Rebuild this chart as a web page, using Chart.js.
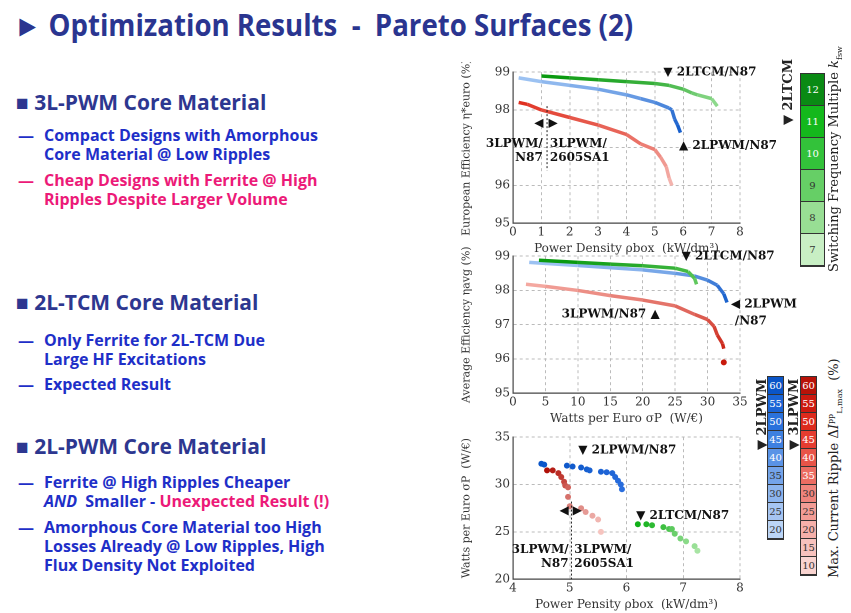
<!DOCTYPE html>
<html><head><meta charset="utf-8">
<script src="https://cdn.jsdelivr.net/npm/chart.js@4"></script>
<style>
body{margin:0;width:851px;height:613px;background:#fff;position:relative;overflow:hidden;font-family:"Open Sans",sans-serif}
.t{position:absolute;left:14px;top:4px;font-size:30px;font-weight:bold;color:#2a3590;white-space:nowrap;transform:scaleX(0.92);transform-origin:left}
.h{position:absolute;left:16px;font-size:21px;font-weight:bold;color:#2d3790;white-space:nowrap}
.s{position:absolute;left:18px;font-size:16px;font-weight:bold;color:#1e2fc8;line-height:19px;white-space:nowrap}
.s span.b{display:inline-block;width:26px}
.pk{color:#ec1a78}
canvas{position:absolute}
.bar{position:absolute;border:1px solid #333}
.bar div{box-sizing:border-box;border-bottom:1px solid #333;font:10px "DejaVu Serif",serif;text-align:center;color:#333}
.rot{position:absolute;transform:rotate(-90deg);transform-origin:left top;white-space:nowrap;font-family:"DejaVu Serif",serif;font-size:12px;color:#222}
</style></head><body>
<div class="t">&#9658; Optimization Results &nbsp;- &nbsp;Pareto Surfaces (2)</div>
<div class="h" style="top:88px">&#9632; 3L-PWM Core Material</div>
<div class="s" style="top:126px"><span class="b">—</span>Compact Designs with Amorphous<br><span class="b"></span>Core Material @ Low Ripples</div>
<div class="s pk" style="top:171px"><span class="b">—</span>Cheap Designs with Ferrite @ High<br><span class="b"></span>Ripples Despite Larger Volume</div>
<div class="h" style="top:288px">&#9632; 2L-TCM Core Material</div>
<div class="s" style="top:331px"><span class="b">—</span>Only Ferrite for 2L-TCM Due<br><span class="b"></span>Large HF Excitations</div>
<div class="s" style="top:375px"><span class="b">—</span>Expected Result</div>
<div class="h" style="top:432px">&#9632; 2L-PWM Core Material</div>
<div class="s" style="top:473px"><span class="b">—</span>Ferrite @ High Ripples Cheaper<br><span class="b"></span><i>AND</i>&nbsp; Smaller - <span class="pk">Unexpected Result (!)</span></div>
<div class="s" style="top:518px"><span class="b">—</span>Amorphous Core Material too High<br><span class="b"></span>Losses Already @ Low Ripples, High<br><span class="b"></span>Flux Density Not Exploited</div>

<canvas id="c1" style="left:460px;top:62px;width:340px;height:194px"></canvas>
<canvas id="c2" style="left:460px;top:246px;width:340px;height:180px"></canvas>
<canvas id="c3" style="left:460px;top:427px;width:340px;height:185px"></canvas>

<div class="bar" id="gbar" style="left:800px;top:73px;width:23px"></div>
<div class="rot" style="left:780px;top:125px;font-weight:bold;font-size:13px">&#9660; 2LTCM</div>
<div class="rot" style="left:826px;top:272px;font-size:13px">Switching Frequency Multiple <i>k</i><sub style="font-size:8px">fsw</sub></div>
<div class="bar" id="bbar" style="left:767px;top:376px;width:15px"></div>
<div class="bar" id="rbar" style="left:800px;top:376px;width:15px"></div>
<div class="rot" style="left:754px;top:450px;font-weight:bold;font-size:13px">&#9660; 2LPWM</div>
<div class="rot" style="left:786px;top:450px;font-weight:bold;font-size:13px">&#9660; 3LPWM</div>
<div class="rot" style="left:826px;top:578px;font-size:13px">Max. Current Ripple &Delta;<i>I</i><sup style="font-size:8px">pp</sup><sub style="font-size:8px">L,max</sub> &nbsp;(%)</div>

<script>
// chart 1: European efficiency vs power density
const g1x = [1, 2, 3, 4, 5, 5.5, 6, 6.3, 6.5, 7, 7.2];
const g1y = [98.9, 98.85, 98.8, 98.75, 98.7, 98.65, 98.55, 98.45, 98.4, 98.3, 98.1];
const b1x = [0.2, 1, 2, 3, 4, 4.5, 5, 5.5, 5.6, 5.7, 5.8, 5.9];
const b1y = [98.85, 98.75, 98.65, 98.55, 98.4, 98.3, 98.2, 98.05, 98.0, 97.75, 97.6, 97.4];
const r1x = [0.2, 0.5, 1, 2, 3, 4, 4.5, 5, 5.2, 5.4, 5.5, 5.6];
const r1y = [98.2, 98.15, 98.0, 97.8, 97.6, 97.35, 97.1, 96.95, 96.75, 96.5, 96.2, 96.0];
// chart 2: average efficiency vs watts per euro
const g2x = [4, 10, 15, 20, 25, 27, 28, 28.3];
const g2y = [98.88, 98.82, 98.77, 98.72, 98.65, 98.55, 98.35, 98.18];
const b2x = [2.5, 10, 20, 25, 28, 30, 31.5, 32.5, 33];
const b2y = [98.82, 98.73, 98.6, 98.5, 98.42, 98.3, 98.15, 97.9, 97.65];
const r2x = [2, 5, 10, 15, 20, 25, 28, 30, 31, 31.5, 32.3, 32.5];
const r2y = [98.18, 98.12, 98.0, 97.85, 97.72, 97.55, 97.3, 97.15, 96.95, 96.7, 96.45, 96.3];
const r2bx = [32.5], r2by = [95.9];
// chart 3: watts per euro vs power density
const b3x = [4.5, 4.55, 4.95, 5.05, 5.2, 5.3, 5.35, 5.55, 5.65, 5.75, 5.8, 5.85, 5.9, 5.92];
const b3y = [32.2, 32.1, 32.0, 31.9, 31.8, 31.6, 31.5, 31.35, 31.3, 31.2, 30.8, 30.4, 30.0, 29.5];
const r3x = [4.6, 4.7, 4.8, 4.85, 4.9, 4.92, 4.97, 4.97, 5.0, 5.2, 5.28, 5.4, 5.5, 5.55];
const r3y = [31.5, 31.5, 31.2, 30.8, 30.3, 29.9, 29.7, 28.7, 27.7, 27.5, 27.1, 26.7, 26.3, 25.0];
const g3x = [6.2, 6.35, 6.45, 6.65, 6.75, 6.8, 6.85, 6.95, 7.05, 7.2, 7.25];
const g3y = [25.8, 25.8, 25.7, 25.5, 25.3, 25.3, 24.8, 24.3, 24.0, 23.5, 23.0];
// colour bars
const kLabels = ['12', '11', '10', '9', '8', '7'];
const bLabels = ['60', '55', '50', '45', '40', '35', '30', '25', '20'];
const rLabels = ['60', '55', '50', '45', '40', '35', '30', '25', '20', '15', '10'];

const greens = ['#0a8a14', '#14b81c', '#33c23a', '#66cf66', '#98de94', '#c8efc4'];
const blues = ['#0a55c8', '#1a64d6', '#2a72dc', '#3d80e0', '#5a93e6', '#74a4ea', '#8db5ee', '#a6c5f2', '#bcd5f6'];
const reds = ['#b81208', '#cc1a10', '#dc2a1c', '#e43c30', '#e85448', '#ec6c62', '#f0847c', '#f39c95', '#f5b0aa', '#f7c2bd', '#f9d4d0'];

function fillBar(id, labels, cols, h) {
  const el = document.getElementById(id);
  labels.forEach((l, i) => {
    const d = document.createElement('div');
    d.style.height = h + 'px'; d.style.lineHeight = h + 'px';
    d.style.background = cols[i];
    d.style.color = i < cols.length / 2 ? '#fff' : '#333';
    d.textContent = l;
    el.appendChild(d);
  });
}
fillBar('gbar', kLabels, greens, 32);
fillBar('bbar', bLabels, blues, 18);
fillBar('rbar', rLabels, reds, 18);

const pts = (xs, ys) => xs.map((x, i) => ({x: x, y: ys[i]}));
function fade(dark, light) {
  return ctx => {
    const n = ctx.chart.data.datasets[ctx.datasetIndex].data.length;
    const t = n > 1 ? ctx.dataIndex / (n - 1) : 0;
    return mix(dark, light, t);
  };
}
function mix(a, b, t) {
  const p = s => [1, 3, 5].map(i => parseInt(s.substr(i, 2), 16));
  const A = p(a), B = p(b);
  return 'rgb(' + A.map((v, i) => Math.round(v + (B[i] - v) * t)).join(',') + ')';
}
function lineSet(d, c0, c1) {
  return {data: d, showLine: true, borderWidth: 3.5, pointRadius: 0,
    segment: {borderColor: ctx => mix(c0, c1, ctx.p0DataIndex / (d.length - 1))}};
}
const serif = '"DejaVu Serif", serif';
Chart.defaults.font.family = serif;
Chart.defaults.color = '#333';
Chart.defaults.animation = false;

const labelPlugin = {
  id: 'labels',
  afterDraw(chart, a, opts) {
    const c = chart.ctx, xs = chart.scales.x, ys = chart.scales.y;
    c.save();
    c.font = 'bold 12px ' + serif; c.fillStyle = '#111'; c.textBaseline = 'middle';
    (opts.items || []).forEach(it => {
      c.textAlign = it.align || 'left';
      it.t.split('\n').forEach((ln, k) => c.fillText(ln, xs.getPixelForValue(it.x), ys.getPixelForValue(it.y) + k * 14));
    });
    (opts.vline || []).forEach(v => {
      c.strokeStyle = '#222'; c.setLineDash([2, 2]); c.lineWidth = 1;
      c.beginPath(); c.moveTo(xs.getPixelForValue(v.x), ys.getPixelForValue(v.y0));
      c.lineTo(xs.getPixelForValue(v.x), ys.getPixelForValue(v.y1)); c.stroke();
    });
    c.restore();
  }
};

function opts(xmin, xmax, xstep, ymin, ymax, ystep, xt, yt, items, vline, hide) {
  return {
    responsive: false, devicePixelRatio: 2,
    layout: {padding: {right: 60, top: 8}},
    plugins: {legend: {display: false}, tooltip: {enabled: false}, labels: {items: items, vline: vline}},
    scales: {
      x: {type: 'linear', min: xmin, max: xmax, ticks: {stepSize: xstep, font: {size: 12}, padding: 2},
        grid: {color: '#bbb', tickLength: 0}, border: {color: '#444', width: 1.2, dash: [3, 3]},
        title: {display: true, text: xt, font: {size: 12}, padding: 0}},
      y: {min: ymin, max: ymax, ticks: {stepSize: ystep, font: {size: 12}, padding: 3,
          callback: v => (hide && hide.includes(v)) ? '' : v},
        grid: {color: '#bbb', tickLength: 0}, border: {color: '#444', width: 1.2, dash: [3, 3]},
        afterFit: s => { s.width = 53; },
        title: {display: true, text: yt, font: {size: 11}, padding: 0}}
    }
  };
}
function mk(id, w, h, datasets, o) {
  const cv = document.getElementById(id); cv.width = w; cv.height = h;
  new Chart(cv, {type: 'scatter', data: {datasets: datasets}, options: o, plugins: [labelPlugin]});
}

mk('c1', 340, 194, [
  lineSet(pts(g1x, g1y), '#0a9a10', '#9ce09a'),
  lineSet(pts(b1x, b1y), '#9cc2f2', '#0a55c8'),
  lineSet(pts(r1x, r1y), '#e03020', '#f6c0bb')
], opts(0, 8, 1, 95, 99, 1, 'Power Density \u03C1box  (kW/dm\u00B3)', 'European Efficiency \u03B7*euro (%)',
  [{x: 5.3, y: 99, t: '\u25BC 2LTCM/N87'}, {x: 5.85, y: 97.05, t: '\u25B2 2LPWM/N87'},
   {x: 1.05, y: 97.1, t: '3LPWM/\nN87', align: 'right'}, {x: 1.3, y: 97.1, t: '3LPWM/\n2605SA1'},
   {x: 0.75, y: 97.65, t: '\u25C0', align: 'left'}, {x: 1.25, y: 97.65, t: '\u25B6'}],
  [{x: 1.2, y0: 98.1, y1: 96.4}], [97]));

mk('c2', 340, 180, [
  lineSet(pts(g2x, g2y), '#0a9a10', '#6ed06a'),
  lineSet(pts(b2x, b2y), '#9cc2f2', '#0a55c8'),
  lineSet(pts(r2x, r2y), '#f4a8a0', '#c81a0c'),
  {data: pts(r2bx, r2by), pointRadius: 3, backgroundColor: '#c81a0c', borderWidth: 0}
], opts(0, 35, 5, 95, 99, 1, 'Watts per Euro \u03C3P  (W/\u20AC)', 'Average Efficiency \u03B7avg (%)',
  [{x: 26, y: 99, t: '\u25BC 2LTCM/N87'}, {x: 33.6, y: 97.6, t: '\u25C0 2LPWM'}, {x: 34.2, y: 97.1, t: '/N87'},
   {x: 7.5, y: 97.3, t: '3LPWM/N87 \u25B2'}], [], []));

mk('c3', 340, 185, [
  {data: pts(b3x, b3y), pointRadius: 3, borderWidth: 0, backgroundColor: fade('#0a55c8', '#2a6ede')},
  {data: pts(r3x, r3y), pointRadius: 3, borderWidth: 0, backgroundColor: fade('#b01008', '#f6c4bf')},
  {data: pts(g3x, g3y), pointRadius: 3, borderWidth: 0, backgroundColor: fade('#10b018', '#a8e4a4')}
], opts(4, 8, 1, 20, 35, 5, 'Power Pensity \u03C1box  (kW/dm\u00B3)', 'Watts per Euro \u03C3P  (W/\u20AC)',
  [{x: 5.15, y: 33.6, t: '\u25BC 2LPWM/N87'}, {x: 6.17, y: 26.7, t: '\u25BC 2LTCM/N87'},
   {x: 4.98, y: 23.1, t: '3LPWM/\nN87', align: 'right'}, {x: 5.08, y: 23.1, t: '3LPWM/\n2605SA1'},
   {x: 4.82, y: 27.2, t: '\u25C0'}, {x: 5.05, y: 27.2, t: '\u25B6'}],
  [{x: 5.03, y0: 28.2, y1: 20}], []));
</script>
</body></html>
